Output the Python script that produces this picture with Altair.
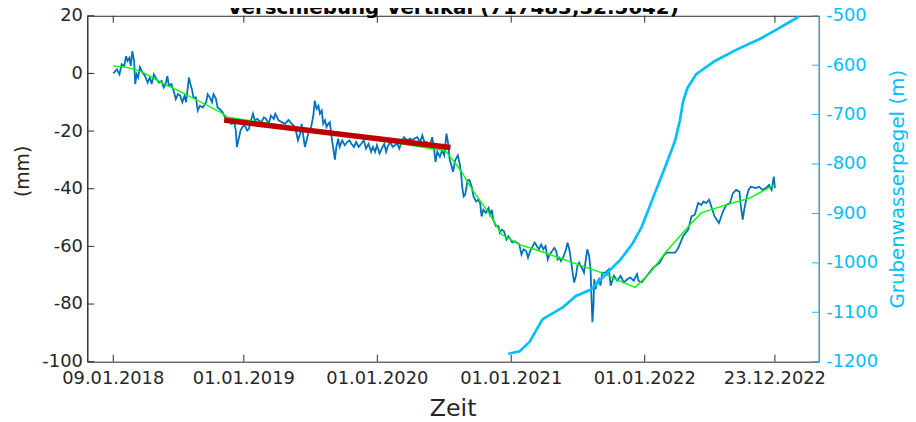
import altair as alt
import pandas as pd

# ---------------- data ----------------
BASE_DATE = pd.Timestamp("2018-01-09")  # day 0 of the offsets below

# vertical displacement (mm): (days since 09.01.2018, value)
displacement = [
    (0, 0.0), (10, 1.4), (17, -0.3), (23, 3.2), (30, 2.6), (35, 6.0), (39, 4.3), (44, 5.4),
    (48, 2.6), (52, 7.7), (57, 4.3), (60, -3.7), (64, -0.3), (68, -1.4), (73, 2.2), (80, 0.3),
    (87, -0.9), (94, -3.2), (100, -1.4), (105, -3.7), (111, -0.3), (118, -2.0), (125, -3.2),
    (132, -2.6), (138, -4.9), (143, -3.7), (148, -0.9), (152, -4.3), (159, -3.7), (165, -6.0),
    (171, -8.9), (177, -7.2), (183, -7.7), (189, -10.0), (195, -7.7), (199, -10.0), (207, -1.4),
    (210, -3.2), (216, -6.0), (219, -8.3), (226, -8.3), (231, -12.9), (237, -11.2), (245, -11.8),
    (254, -10.0), (258, -7.2), (264, -8.3), (270, -10.0), (274, -7.2), (281, -8.9), (285, -11.8),
    (291, -12.3), (299, -13.5), (303, -14.6), (310, -16.3), (317, -16.9), (324, -17.5),
    (330, -16.3), (335, -19.8), (338, -25.5), (344, -22.1), (348, -19.8), (353, -18.6),
    (357, -18.1), (362, -18.6), (366, -19.8), (371, -19.2), (375, -16.9), (382, -14.0),
    (387, -16.3), (394, -15.8), (398, -16.3), (405, -16.9), (412, -15.2), (418, -15.8),
    (425, -17.5), (431, -14.6), (439, -15.8), (443, -14.0), (452, -16.3), (461, -16.9),
    (470, -17.5), (479, -16.1), (488, -17.5), (497, -18.6), (505, -23.2), (511, -20.9),
    (515, -17.5), (520, -22.1), (524, -25.5), (533, -20.9), (541, -18.6), (547, -14.6),
    (551, -9.5), (556, -12.3), (561, -11.2), (565, -14.0), (570, -12.9), (574, -17.5),
    (579, -16.3), (583, -18.6), (588, -17.5), (592, -16.9), (597, -22.1), (601, -25.5),
    (606, -29.9), (610, -25.5), (615, -22.6), (619, -25.5), (626, -23.2), (633, -24.9),
    (640, -23.8), (646, -23.2), (651, -24.4), (658, -25.5), (664, -23.8), (671, -25.5),
    (678, -24.4), (685, -23.2), (691, -26.1), (698, -24.4), (705, -27.2), (710, -25.5),
    (716, -27.2), (721, -24.9), (728, -27.8), (734, -26.1), (741, -24.4), (746, -27.2),
    (750, -25.5), (757, -23.8), (764, -25.5), (770, -24.9), (777, -24.4), (782, -26.1),
    (788, -23.8), (795, -22.1), (804, -23.2), (812, -22.6), (818, -23.2), (824, -22.6),
    (831, -22.1), (839, -23.8), (845, -21.5), (851, -23.8), (858, -23.8), (866, -24.9),
    (872, -22.1), (877, -26.1), (881, -30.7), (886, -27.2), (893, -28.9), (899, -26.7),
    (905, -28.4), (911, -20.9), (915, -23.8), (920, -30.1), (923, -31.2), (929, -34.1),
    (935, -30.1), (942, -28.4), (947, -31.2), (951, -34.7), (954, -39.3), (958, -42.7),
    (962, -42.1), (969, -37.0), (974, -37.0), (980, -39.3), (985, -42.7), (992, -44.4),
    (998, -43.8), (1003, -45.0), (1007, -49.6), (1012, -47.3), (1019, -48.4), (1026, -46.7),
    (1030, -49.0), (1035, -47.3), (1039, -50.7), (1046, -53.0), (1053, -53.0), (1057, -55.3),
    (1062, -54.2), (1068, -54.7), (1075, -57.6), (1080, -56.5), (1086, -57.6), (1091, -58.7),
    (1098, -58.2), (1104, -58.7), (1110, -59.3), (1116, -62.8), (1122, -61.0), (1129, -61.6),
    (1134, -63.9), (1140, -61.6), (1147, -59.9), (1152, -58.7), (1158, -59.9), (1164, -61.0),
    (1170, -59.3), (1176, -61.0), (1182, -59.9), (1188, -64.5), (1193, -62.8), (1200, -61.6),
    (1206, -60.5), (1211, -61.6), (1215, -64.5), (1220, -63.9), (1224, -65.1), (1230, -63.9),
    (1238, -61.0), (1242, -58.7), (1247, -61.0), (1251, -64.5), (1256, -69.1), (1260, -72.5),
    (1265, -70.2), (1269, -66.8), (1274, -65.6), (1278, -66.8), (1283, -67.9), (1287, -69.1),
    (1292, -64.5), (1296, -61.0), (1301, -63.3), (1305, -67.9), (1308, -79.4), (1310, -86.3),
    (1313, -80.5), (1315, -71.4), (1319, -74.8), (1323, -72.5), (1328, -71.4), (1332, -73.6),
    (1337, -69.1), (1346, -69.1), (1355, -67.9), (1360, -73.6), (1369, -70.2), (1378, -71.9),
    (1387, -70.2), (1396, -72.5), (1405, -71.4), (1414, -70.8), (1423, -71.9), (1432, -69.6),
    (1436, -71.9), (1445, -72.5), (1459, -70.2), (1477, -67.3), (1495, -65.6), (1504, -63.3),
    (1513, -62.2), (1536, -62.2), (1545, -60.5), (1558, -56.5), (1572, -54.2), (1581, -49.6),
    (1590, -49.0), (1599, -45.0), (1608, -45.6), (1614, -44.4), (1621, -45.0), (1629, -43.8),
    (1635, -46.1), (1644, -49.6), (1656, -51.9), (1667, -47.9), (1676, -45.6), (1686, -45.0),
    (1694, -41.6), (1703, -40.4), (1712, -41.0), (1716, -46.1), (1721, -50.7), (1725, -47.3),
    (1732, -42.7), (1737, -40.4), (1743, -39.3), (1757, -39.8), (1766, -39.3), (1775, -40.4),
    (1784, -39.8), (1793, -38.7), (1800, -40.4), (1806, -35.8), (1809, -39.8),
]

# smoothed fit (green)
fit_curve = [
    (0, 2.6), (41, 2.0), (77, 0.6), (132, -3.2), (177, -6.0), (240, -10.0), (294, -13.5),
    (312, -15.2), (610, -20.8), (881, -26.3), (908, -26.8), (949, -33.5), (985, -41.0),
    (1030, -49.0), (1062, -55.9), (1111, -59.4), (1166, -61.6), (1256, -65.6), (1346, -69.6),
    (1382, -71.9), (1427, -74.2), (1468, -69.1), (1513, -61.6), (1581, -51.9), (1608, -48.4),
    (1675, -45.6), (1739, -43.3), (1807, -38.7),
]

# linear trend segment (red)
trend_segment = [(303, -16.2), (922, -25.7)]

# mine water level (m), right axis
water_level = [
    (1080, -1184), (1111, -1179), (1138, -1160), (1174, -1114), (1229, -1090), (1265, -1067),
    (1306, -1054), (1351, -1020), (1387, -993), (1418, -963), (1445, -927), (1477, -866),
    (1509, -806), (1536, -753), (1549, -713), (1558, -673), (1570, -646), (1594, -618),
    (1644, -592), (1703, -569), (1770, -546), (1811, -529), (1874, -502),
]

x_tick_dates = ["2018-01-09", "2019-01-01", "2020-01-01", "2021-01-01", "2022-01-01", "2022-12-23"]
x_tick_labels = ["09.01.2018", "01.01.2019", "01.01.2020", "01.01.2021", "01.01.2022", "23.12.2022"]
left_ticks = [20, 0, -20, -40, -60, -80, -100]
right_ticks = [-500, -600, -700, -800, -900, -1000, -1100, -1200]

TITLE = "Verschiebung Vertikal (717483,32.5642)"
X_TITLE = "Zeit"
LEFT_TITLE = "(mm)"
RIGHT_TITLE = "Grubenwasserpegel (m)"

# ---------------- styling ----------------
W, H = 738, 349
FONT = "DejaVu Sans"
DARK = "#262626"
BLUE = "#0072BD"
GREEN = "#00FF00"
RED = "#BF0000"
SKY = "#00BFFF"


def frame(points, col):
    return pd.DataFrame({
        "date": [BASE_DATE + pd.Timedelta(days=d) for d, _ in points],
        col: [v for _, v in points],
    })


def dt(s):
    t = pd.Timestamp(s)
    return alt.DateTime(year=t.year, month=t.month, date=t.day)


x_scale = alt.Scale(domain=[dt("2017-10-30"), dt("2023-04-22")])
left_scale = alt.Scale(domain=[-100, 20], nice=False, zero=False)
right_scale = alt.Scale(domain=[-1200, -500], nice=False, zero=False)

left_axis = alt.Axis(
    values=left_ticks, ticks=False, labelPadding=5, labelFontSize=18, labelColor=DARK,
    labelExpr="'' + datum.value", domainColor=DARK, grid=False, title=None,
)
right_axis = alt.Axis(
    orient="right", values=right_ticks, ticks=False, labelPadding=7, labelFontSize=18,
    labelColor=SKY, labelExpr="'' + datum.value", domainColor=SKY, grid=False,
    title=RIGHT_TITLE, titleFontSize=20, titleFontWeight="normal", titleColor=SKY,
    titleAngle=270, titlePadding=30,
)

disp_df = frame(displacement, "v")
fit_df = frame(fit_curve, "v")
trend_df = frame(trend_segment, "v")
water_df = frame(water_level, "m")
xt_df = pd.DataFrame({"date": [pd.Timestamp(s) for s in x_tick_dates], "label": x_tick_labels})
lt_df = pd.DataFrame({"v": left_ticks})
rt_df = pd.DataFrame({"m": right_ticks})

X = lambda: alt.X("date:T", scale=x_scale, axis=None)

blue = alt.Chart(disp_df).mark_line(color=BLUE, strokeWidth=1.8).encode(
    x=X(), y=alt.Y("v:Q", scale=left_scale, axis=left_axis),
)
green = alt.Chart(fit_df).mark_line(color=GREEN, strokeWidth=1.4).encode(
    x=X(), y=alt.Y("v:Q", scale=left_scale, axis=None),
)
red = alt.Chart(trend_df).mark_line(color=RED, strokeWidth=5.5).encode(
    x=X(), y=alt.Y("v:Q", scale=left_scale, axis=None),
)
xt_bottom = alt.Chart(xt_df).mark_rule(color=DARK, strokeWidth=1).encode(
    x=X(), y=alt.value(H), y2=alt.value(H - 7),
)
xt_top = alt.Chart(xt_df).mark_rule(color=DARK, strokeWidth=1).encode(
    x=X(), y=alt.value(0), y2=alt.value(7),
)
x_labels = alt.Chart(xt_df).mark_text(
    font=FONT, fontSize=18, color=DARK, baseline="top", align="center"
).encode(x=X(), y=alt.value(H + 9), text="label:N")
lt = alt.Chart(lt_df).mark_rule(color=DARK, strokeWidth=1).encode(
    y=alt.Y("v:Q", scale=left_scale, axis=None), x=alt.value(0), x2=alt.value(7),
)
water = alt.Chart(water_df).mark_line(color=SKY, strokeWidth=2.7).encode(
    x=X(), y=alt.Y("m:Q", scale=right_scale, axis=right_axis),
)
rt = alt.Chart(rt_df).mark_rule(color=SKY, strokeWidth=1).encode(
    y=alt.Y("m:Q", scale=right_scale, axis=None), x=alt.value(W), x2=alt.value(W - 7),
)

# titles drawn as text marks
x_title = alt.Chart(pd.DataFrame({"t": [X_TITLE]})).mark_text(
    font=FONT, fontSize=24, color=DARK, baseline="middle", align="center"
).encode(x=alt.value(W / 2), y=alt.value(H + 48), text="t:N")
y_title = alt.Chart(pd.DataFrame({"t": [LEFT_TITLE]})).mark_text(
    font=FONT, fontSize=19, color=DARK, baseline="middle", align="center", angle=270
).encode(x=alt.value(-65), y=alt.value(157), text="t:N")
main_title = alt.Chart(pd.DataFrame({"t": [TITLE]})).mark_text(
    font=FONT, fontSize=20, fontWeight="bold", color="#000000", baseline="alphabetic",
    align="center"
).encode(x=alt.value(W / 2), y=alt.value(-2), text="t:N")

chart = alt.layer(
    blue, green, red, xt_bottom, xt_top, x_labels, lt, water, rt, x_title, y_title, main_title
).resolve_scale(y="independent").properties(
    width=W, height=H,
    autosize=alt.AutoSizeParams(type="none"),
    padding={"left": 80, "top": 6, "right": 90, "bottom": 59},
).configure(font=FONT, background="white").configure_view(stroke=DARK, strokeWidth=1)

chart.save("out.html", embed_options={"renderer": "svg", "actions": False})
